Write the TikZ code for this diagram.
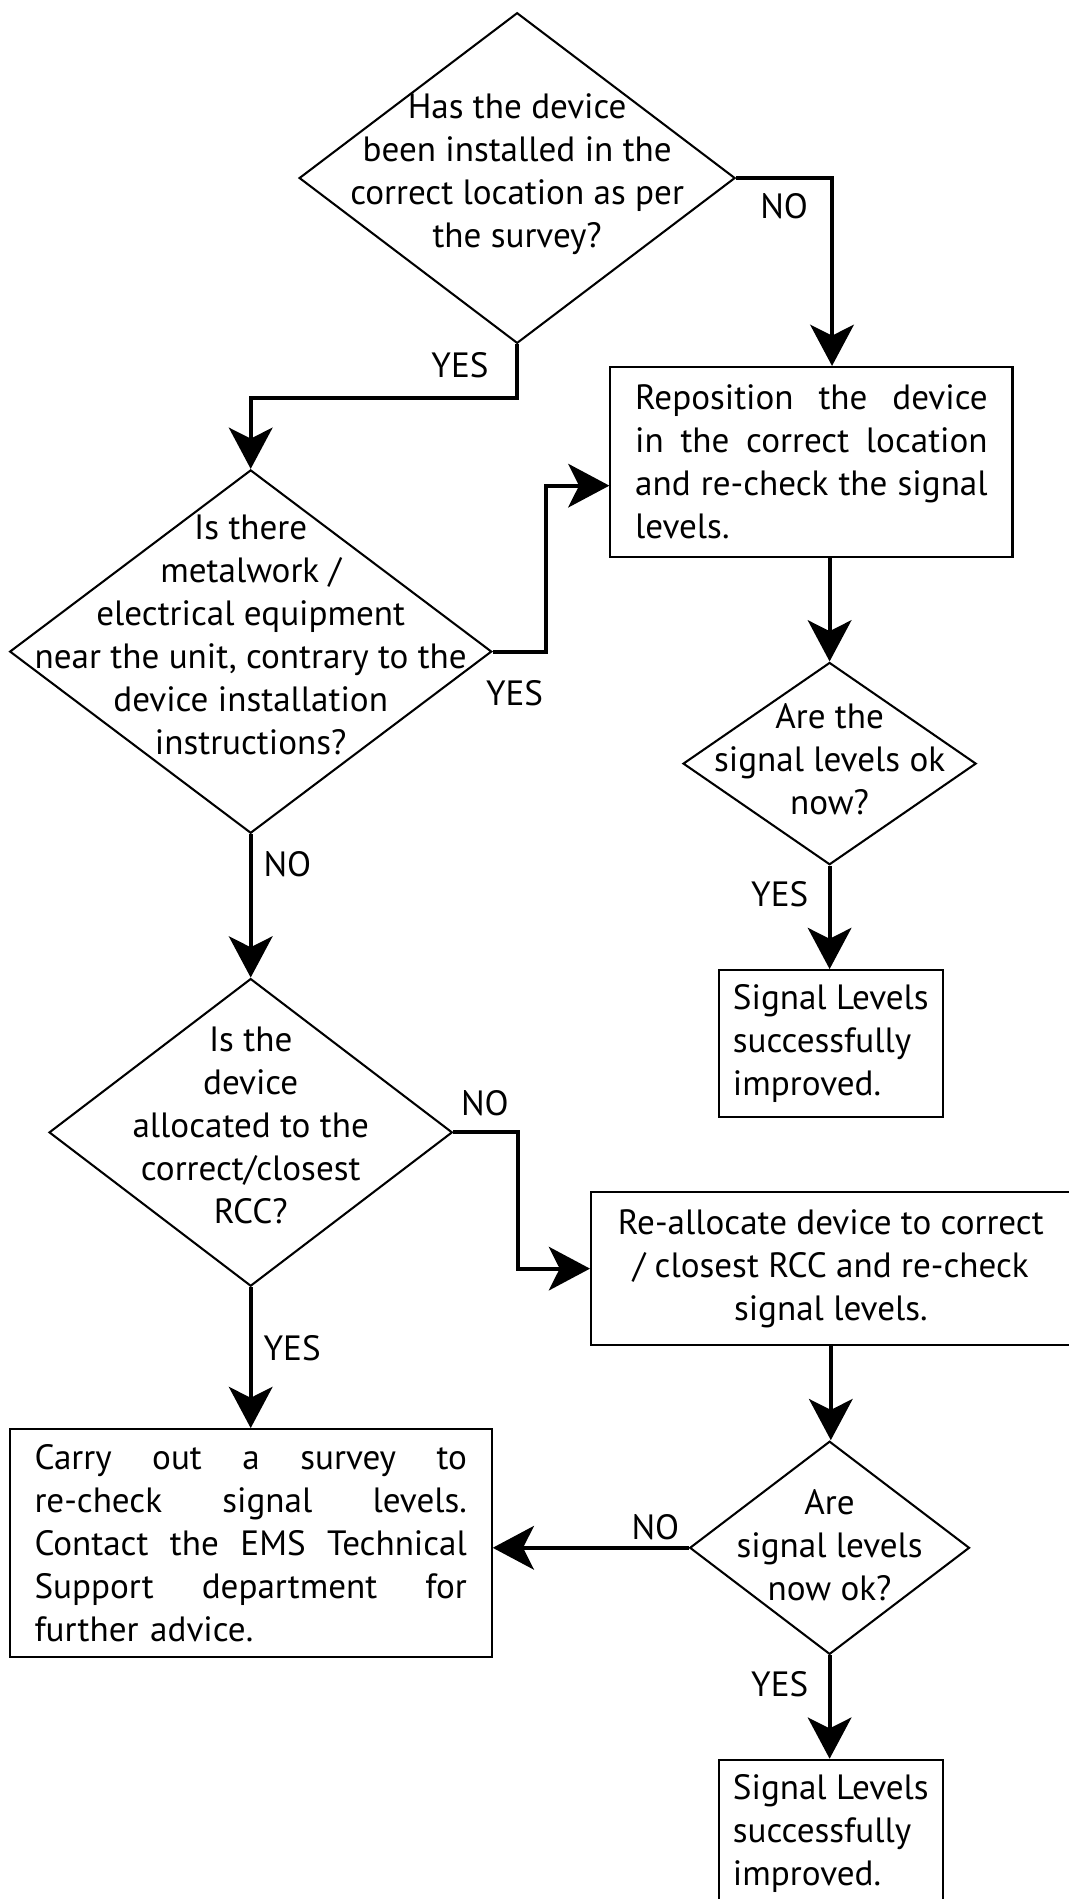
\documentclass[tikz,border=0pt]{standalone}
\usepackage{fontspec}
\setmainfont{PT Sans}
\usetikzlibrary{shapes.geometric}
\usetikzlibrary{arrows.meta}

\newcommand{\mainsize}{\fontsize{29}{35.5}\selectfont}
\newcommand{\jline}[1]{\makebox[\linewidth][s]{\spaceskip=\fontdimen2\font plus 1fil\relax #1}}

\begin{document}
\begin{tikzpicture}[x=1pt, y=-1pt,
    >={Stealth[length=34pt, width=36pt, inset=9pt]},
    decision/.style={draw, diamond, line width=1.7pt, inner sep=0pt},
    stepbox/.style={draw, rectangle, line width=1.7pt, inner sep=0pt, font=\mainsize},
    qtext/.style={align=center, inner sep=0pt, font=\mainsize},
    flow/.style={->, line width=3.3pt},
    lbl/.style={inner sep=0pt, font=\mainsize}]

        \useasboundingbox (0,0) rectangle (882,1568);

        % Questions
        \node[decision, minimum width=360pt, minimum height=273pt] (d1) at (427,147) {};
        \node[qtext] (d1t) at (427,144) {Has the device\\been installed in the\\correct location as per\\the survey?};

        \node[decision, minimum width=398pt, minimum height=300pt] (d2) at (207,538) {};
        \node[qtext] (d2t) at (207,524) {Is there\\metalwork /\\electrical equipment\\near the unit, contrary to the\\device installation\\instructions?};

        \node[decision, minimum width=242pt, minimum height=167pt] (d3) at (685,630.5) {};
        \node[qtext] (d3t) at (685,627) {Are the\\signal levels ok\\now?};

        \node[decision, minimum width=333pt, minimum height=254pt] (d4) at (207,935) {};
        \node[qtext] (d4t) at (207,929) {Is the\\device\\allocated to the\\correct/closest\\RCC?};

        \node[decision, minimum width=231pt, minimum height=176pt] (d5) at (685,1278) {};
        \node[qtext] (d5t) at (685,1276) {Are\\signal levels\\now ok?};

        % Actions
        \node[stepbox, minimum width=332pt, minimum height=157pt, text width=291pt, align=left] (r1) at (670,381.5)
            {\jline{Reposition the device}\\\jline{in the correct location}\\\jline{and re-check the signal}\\levels.};
        \node[stepbox, minimum width=185pt, minimum height=121pt, align=left] (s1) at (686,861.5)
            {Signal Levels\\successfully\\improved.};
        \node[stepbox, minimum width=396pt, minimum height=126pt, align=center] (r2) at (686,1047.5)
            {Re-allocate device to correct\\/ closest RCC and re-check\\signal levels.};
        \node[stepbox, minimum width=398pt, minimum height=188pt, text width=357pt, align=left] (c1) at (207,1274)
            {\jline{Carry out a survey to}\\\jline{re-check signal levels.}\\\jline{Contact the EMS Technical}\\\jline{Support department for}\\further advice.};
        \node[stepbox, minimum width=185pt, minimum height=121pt, align=left] (s2) at (686,1513.5)
            {Signal Levels\\successfully\\improved.};

        % Connectors
        \draw[flow] (d1.east) -| node[lbl, pos=0.25, below=11pt] {NO} ([xshift=17pt]r1.north);
        \draw[flow] (d1.south) -- node[lbl, pos=0.39, left=22pt] {YES} ++(0,44) -| (d2.north);
        \draw[flow] (d2.east) -- node[lbl, pos=0.41, below=22pt] {YES} ++(44,0) |- ([yshift=-19.5pt]r1.west);
        \draw[flow] (d3.north |- r1.south) -- (d3.north);
        \draw[flow] (d3.south) -- node[lbl, pos=0.28, left=16pt] {YES} (d3.south |- s1.north);
        \draw[flow] (d2.south) -- node[lbl, pos=0.21, right=9pt] {NO} (d4.north);
        \draw[flow] (d4.east) -- node[lbl, pos=0.49, above=12pt] {NO} ++(53,0) |- (r2.west);
        \draw[flow] (r2.south) -- (r2.south |- d5.north);
        \draw[flow] (d4.south) -- node[lbl, pos=0.43, right=9pt] {YES} (c1.north);
        \draw[flow] (d5.west) -- node[lbl, pos=0.17, above=5pt] {NO} (d5.west -| c1.east);
        \draw[flow] (d5.south) -- node[lbl, pos=0.28, left=16pt] {YES} (d5.south |- s2.north);
        \end{tikzpicture}
\end{document}
